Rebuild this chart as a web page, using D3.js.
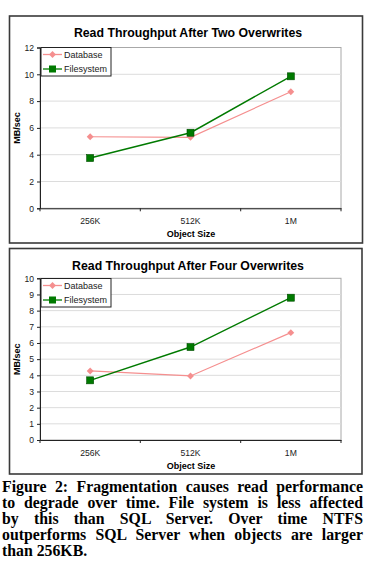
<!DOCTYPE html>
<html>
<head>
<meta charset="utf-8">
<script src="https://cdn.jsdelivr.net/npm/d3@7"></script>
<style>
  body { margin: 0; background: #fff; }
  #cap { position: absolute; left: 2px; top: 479px; width: 361px;
    font-family: "Liberation Serif", "Times New Roman", serif; font-weight: bold;
    font-size: 15.8px; line-height: 16px; color: #000; }
  #cap div { text-align: justify; text-align-last: justify; white-space: nowrap; }
  #cap div.last { text-align-last: left; }
</style>
</head>
<body>
<div id="chart"></div>
<div id="cap"></div>
<script>
// data
var sizes = ["256K", "512K", "1M"];
var dbTwo = [5.34, 5.3, 8.7];
var fsTwo = [3.75, 5.64, 9.85];
var dbFour = [4.27, 3.96, 6.64];
var fsFour = [3.69, 5.75, 8.8];
var ticksTwo = [0, 2, 4, 6, 8, 10, 12];
var ticksFour = [0, 1, 2, 3, 4, 5, 6, 7, 8, 9, 10];
var captionLines = [
  "Figure 2: Fragmentation causes read performance",
  "to degrade over time. File system is less affected",
  "by this than SQL Server.  Over time NTFS",
  "outperforms SQL Server when objects are larger",
  "than 256KB."
];

var pink = "#f58f8f", green = "#007a00";
var sans = "Liberation Sans, Arial, sans-serif";

var svg = d3.select("#chart").append("svg")
  .attr("width", 376)
  .attr("height", 478);

// one chart panel
function makeChart(box, title, ymax, ticks, db, fs) {

  var g = svg.append("g");

  // outer frame
  g.append("rect")
    .attr("x", box.x).attr("y", box.y)
    .attr("width", box.w).attr("height", box.h)
    .attr("fill", "#fff")
    .attr("stroke", "#3a3a3a")
    .attr("stroke-width", 1.6);

  g.append("text")
    .attr("x", 188).attr("y", box.titleY)
    .attr("text-anchor", "middle")
    .style("font-family", sans)
    .style("font-weight", "bold")
    .style("font-size", "12.3px")
    .text(title);

  var x = d3.scaleBand().domain(sizes).range([40, 341]);
  var y = d3.scaleLinear().domain([0, ymax]).range([box.bottom, box.top]);

  // plot border + gridlines
  g.append("rect")
    .attr("x", 40).attr("y", box.top)
    .attr("width", 301).attr("height", box.bottom - box.top)
    .attr("fill", "none")
    .attr("stroke", "#a8a8a8")
    .attr("stroke-width", 1);

  g.selectAll(".grid")
    .data(ticks.slice(1, -1))
    .enter()
    .append("line")
    .attr("x1", 40).attr("x2", 341)
    .attr("y1", function(d){ return y(d); })
    .attr("y2", function(d){ return y(d); })
    .attr("stroke", "#dcdcdc")
    .attr("stroke-width", 1);

  // axes
  var yAxis = g.append("g")
    .attr("transform", "translate(40,0)")
    .call(d3.axisLeft(y).tickValues(ticks).tickSize(3).tickPadding(3));

  var xAxis = g.append("g")
    .attr("transform", "translate(0," + box.bottom + ")")
    .call(d3.axisBottom(x).tickSize(0).tickPadding(10));

  xAxis.selectAll(".sep")
    .data([40, 140.3, 240.7, 341])
    .enter()
    .append("line")
    .attr("x1", function(d){ return d; })
    .attr("x2", function(d){ return d; })
    .attr("y1", 0).attr("y2", 3)
    .attr("stroke", "#222");

  [yAxis, xAxis].forEach(function(a){
    a.select(".domain").attr("stroke", "#222").attr("stroke-width", 1);
    a.selectAll(".tick line").attr("stroke", "#222");
    a.selectAll("text")
      .style("font-family", sans)
      .style("font-size", "8.6px")
      .attr("fill", "#222");
  });

  // axis titles
  g.append("text")
    .attr("x", 191).attr("y", box.xTitleY)
    .attr("text-anchor", "middle")
    .style("font-family", sans)
    .style("font-weight", "bold")
    .style("font-size", "9px")
    .text("Object Size");

  g.append("text")
    .attr("transform", "translate(20," + ((box.top + box.bottom) / 2) + ") rotate(-90)")
    .attr("text-anchor", "middle")
    .style("font-family", sans)
    .style("font-weight", "bold")
    .style("font-size", "9px")
    .text("MB/sec");

  var cx = function(d, i){ return x(sizes[i]) + x.bandwidth() / 2; };
  var line = d3.line().x(cx).y(function(d){ return y(d); });

  // database
  g.append("path")
    .attr("d", line(db))
    .attr("fill", "none")
    .attr("stroke", pink)
    .attr("stroke-width", 1.2);

  g.selectAll(".db")
    .data(db)
    .enter()
    .append("path")
    .attr("d", d3.symbol(d3.symbolDiamond2, 30))
    .attr("transform", function(d, i){ return "translate(" + cx(d, i) + "," + y(d) + ")"; })
    .attr("fill", pink);

  // filesystem
  g.append("path")
    .attr("d", line(fs))
    .attr("fill", "none")
    .attr("stroke", green)
    .attr("stroke-width", 1.4);

  g.selectAll(".fs")
    .data(fs)
    .enter()
    .append("rect")
    .attr("x", function(d, i){ return cx(d, i) - 3.5; })
    .attr("y", function(d){ return y(d) - 3.5; })
    .attr("width", 7).attr("height", 7)
    .attr("fill", green)
    .attr("stroke", "#004d00")
    .attr("stroke-width", 0.6);

  // legend
  var lg = g.append("g").attr("transform", "translate(41," + box.legY + ")");
  lg.append("rect")
    .attr("width", 70).attr("height", 28.5)
    .attr("fill", "#fff")
    .attr("stroke", "#222")
    .attr("stroke-width", 1);

  var items = [
    {name: "Database", color: pink, y: 7},
    {name: "Filesystem", color: green, y: 21.5}
  ];
  items.forEach(function(it, k){
    lg.append("line")
      .attr("x1", 2).attr("x2", 21)
      .attr("y1", it.y).attr("y2", it.y)
      .attr("stroke", it.color)
      .attr("stroke-width", 1.3);
    if (k === 0) {
      lg.append("path")
        .attr("d", d3.symbol(d3.symbolDiamond2, 30))
        .attr("transform", "translate(11.5," + it.y + ")")
        .attr("fill", it.color);
    } else {
      lg.append("rect")
        .attr("x", 8).attr("y", it.y - 3.5)
        .attr("width", 7).attr("height", 7)
        .attr("fill", it.color);
    }
    lg.append("text")
      .attr("x", 23).attr("y", it.y + 3.2)
      .style("font-family", sans)
      .style("font-size", "9px")
      .attr("fill", "#222")
      .text(it.name);
  });
}

makeChart({x: 9.5, y: 16, w: 353, h: 227, titleY: 37, top: 47.5, bottom: 208.3,
  xTitleY: 236.5, legY: 47.5}, "Read Throughput After Two Overwrites", 12, ticksTwo, dbTwo, fsTwo);

makeChart({x: 9.5, y: 248.5, w: 352.5, h: 225.5, titleY: 269.5, top: 278.3, bottom: 440,
  xTitleY: 468.5, legY: 278.5}, "Read Throughput After Four Overwrites", 10, ticksFour, dbFour, fsFour);

// caption
d3.select("#cap").selectAll("div")
  .data(captionLines)
  .enter()
  .append("div")
  .attr("class", function(d, i){ return i === captionLines.length - 1 ? "last" : null; })
  .text(function(d){ return d; });
</script>
</body>
</html>
